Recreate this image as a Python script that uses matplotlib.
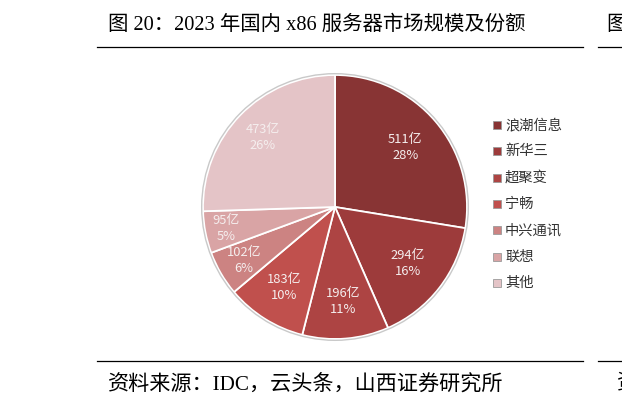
import numpy as np
import matplotlib
matplotlib.use("Agg")
import matplotlib.pyplot as plt
from matplotlib.patches import Circle

plt.rcParams['font.family'] = ['Liberation Serif', 'Noto Sans CJK SC', 'DejaVu Sans']

# data
vendors = ["浪潮信息", "新华三", "超聚变", "宁畅", "中兴通讯", "联想", "其他"]
sizes = [511, 294, 196, 183, 102, 95, 473]        # 亿元
shares = ["28%", "16%", "11%", "10%", "6%", "5%", "26%"]
colors = ["#883434", "#9d3b3b", "#ad4443", "#c0504d", "#cc8382", "#d9a4a5", "#e4c4c7"]
label_r = [0.70, 0.70, 0.72, 0.72, 0.80, 0.84, 0.76]

W, H = 622, 409
fig = plt.figure(figsize=(W / 100, H / 100), dpi=100)

# pie, centre at (335, 207) px, radius 132 px
cx, cy, r = 335, 207, 132
lim = 1.02
ax = fig.add_axes([(cx - r * lim) / W, (H - cy - r * lim) / H, 2 * r * lim / W, 2 * r * lim / H])
wedges, _ = ax.pie(sizes, colors=colors, startangle=90, counterclock=False,
                   radius=1.0, wedgeprops=dict(edgecolor="white", linewidth=1.3))
ax.add_patch(Circle((0, 0), 1.01, fill=False, edgecolor="#c9c9c9", linewidth=1.0))
for w, s, p, d in zip(wedges, sizes, shares, label_r):
    ang = np.deg2rad((w.theta1 + w.theta2) / 2)
    ax.text(d * np.cos(ang), d * np.sin(ang), f"{s}亿\n{p}", ha="center", va="center",
            color="#f5eeee", fontsize=9.3, linespacing=1.3,
            family=['Noto Sans CJK SC', 'DejaVu Sans'])
ax.set_xlim(-lim, lim)
ax.set_ylim(-lim, lim)
ax.set_aspect("equal")
ax.axis("off")

# legend
for i, (name, c) in enumerate(zip(vendors, colors)):
    y = 1 - (125 + i * 26.3) / H
    fig.patches.append(plt.Rectangle((493 / W, y - 4 / H), 8 / W, 8 / H, transform=fig.transFigure,
                                     facecolor=c, edgecolor="#9a9a9a", linewidth=0.6))
    fig.text(505 / W, y, name, fontsize=10.3, color="#333333", va="center",
             family=['Noto Sans CJK SC'])

# title, rules and source
fig.text(108 / W, 1 - 25 / H, "图 20：2023 年国内 x86 服务器市场规模及份额", fontsize=14.7,
         va="center", color="black")
fig.text(108 / W, 1 - 385 / H, "资料来源：IDC，云头条，山西证券研究所", fontsize=15.2,
         va="center", color="black")
for yy in (47, 361):
    fig.add_artist(plt.Line2D([97 / W, 583 / W], [1 - yy / H] * 2, color="black", lw=0.9))
    fig.add_artist(plt.Line2D([598 / W, 1.0], [1 - yy / H] * 2, color="black", lw=0.9))
# edge of the next panel (cut off in the reference too)
fig.text(606 / W, 1 - 25 / H, "图", fontsize=14.7, va="center")
fig.text(617 / W, 1 - 385 / H, "资", fontsize=15.2, va="center")

fig.savefig("out.png", dpi=100)
